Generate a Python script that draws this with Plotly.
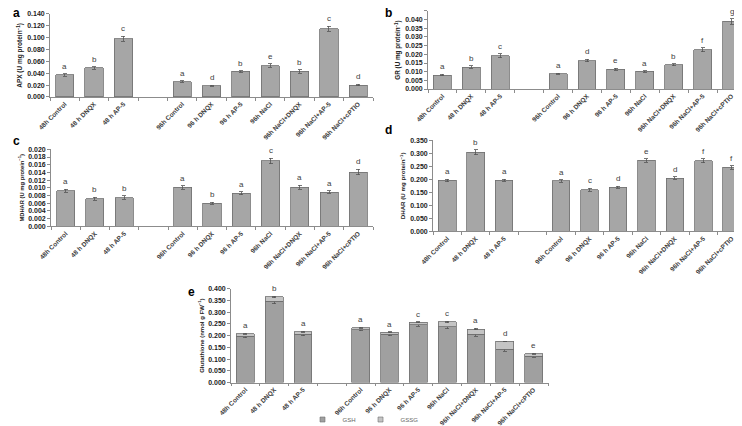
import plotly.graph_objects as go

# category labels (gap slot between the 48 h and 96 h groups)
categories = ["48h Control", "48 h DNQX", "48 h AP-5", "96h Control", "96 h DNQX",
              "96 h AP-5", "96h NaCl", "96h NaCl+DNQX", "96h NaCl+AP-5", "96h NaCl+cPTIO"]
axis_order = categories[:3] + [" "] + categories[3:]

# a: APX
apx = [0.037, 0.049, 0.098, 0.026, 0.019, 0.043, 0.053, 0.043, 0.115, 0.020]
apx_err = [0.002, 0.002, 0.004, 0.0015, 0.001, 0.0015, 0.003, 0.003, 0.004, 0.001]
apx_letters = ["a", "b", "c", "a", "d", "b", "e", "b", "c", "d"]

# b: GR
gr = [0.0080, 0.0126, 0.0192, 0.0088, 0.0164, 0.0114, 0.0102, 0.0141, 0.0226, 0.0390]
gr_err = [0.0004, 0.0007, 0.0012, 0.0004, 0.0007, 0.0007, 0.0004, 0.0006, 0.0012, 0.0016]
gr_letters = ["a", "b", "c", "a", "d", "e", "a", "b", "f", "g"]

# c: MDHAR
mdhar = [0.0093, 0.0072, 0.0075, 0.0101, 0.0060, 0.0086, 0.0170, 0.0102, 0.0089, 0.0141]
mdhar_err = [0.0004, 0.0004, 0.0004, 0.0005, 0.0003, 0.0004, 0.0007, 0.0005, 0.0003, 0.0007]
mdhar_letters = ["a", "b", "b", "a", "b", "a", "c", "a", "a", "d"]

# d: DHAR
dhar = [0.196, 0.305, 0.196, 0.194, 0.160, 0.170, 0.273, 0.205, 0.272, 0.246]
dhar_err = [0.005, 0.010, 0.004, 0.005, 0.005, 0.004, 0.007, 0.005, 0.008, 0.007]
dhar_letters = ["a", "b", "a", "a", "c", "d", "e", "d", "f", "f"]

# e: glutathione (stacked)
gsh = [0.197, 0.347, 0.205, 0.225, 0.205, 0.247, 0.238, 0.205, 0.142, 0.112]
gssg = [0.011, 0.018, 0.012, 0.008, 0.009, 0.010, 0.020, 0.023, 0.033, 0.010]
gsh_err = [0.006, 0.012, 0.006, 0.005, 0.006, 0.007, 0.008, 0.008, 0.008, 0.004]
gssg_err = [0.002, 0.003, 0.002, 0.002, 0.002, 0.003, 0.003, 0.003, 0.002, 0.002]
glu_letters = ["a", "b", "a", "a", "a", "c", "c", "a", "d", "e"]

W, H = 742, 426
BAR = "#A6A6A6"
EDGE = "#6F6F6F"
TXT = "#404040"
FONT = "Liberation Sans"

fig = go.Figure()


def px_dom(lo, hi):
    return [lo / W, hi / W]


def py_dom(top, bottom):
    return [1 - bottom / H, 1 - top / H]


def x_axis(dom, ya):
    return dict(domain=dom, anchor=ya, type="category", automargin=False,
                categoryorder="array", categoryarray=axis_order,
                range=[-0.5, 10.5], tickangle=-45, showline=True,
                linecolor="#8C8C8C", linewidth=0.8, ticks="outside",
                tickson="boundaries", ticklen=3, tickcolor="#8C8C8C",
                tickfont=dict(size=6.5, color=TXT, family=FONT, weight="bold"),
                showgrid=False, zeroline=False)


def y_axis(dom, xa, yrange, dtick, title, tsize):
    return dict(domain=dom, anchor=xa, range=yrange, dtick=dtick, automargin=False,
                tickformat=".3f", showline=True, linecolor="#8C8C8C",
                linewidth=0.8, ticks="outside", ticklen=3, tickcolor="#8C8C8C",
                tickfont=dict(size=7, color="#222222", family=FONT, weight="bold"),
                showgrid=False, zeroline=False,
                title=dict(text=title, standoff=3,
                           font=dict(size=tsize, color="#222222", family=FONT, weight="bold")))


def add_letters(xa, ya, tops, letters):
    for c, v, t in zip(categories, tops, letters):
        fig.add_annotation(x=c, y=v, xref=xa, yref=ya, text=t, showarrow=False,
                           yanchor="bottom", yshift=1, font=dict(size=8, color=TXT, family=FONT))


def add_panel(n, vals, errs, letters, xdom, ydom, yrange, dtick, title, tsize):
    xa = f"x{n}"
    ya = f"y{n}"
    fig.add_trace(go.Bar(
        x=categories, y=vals, xaxis=xa, yaxis=ya, width=0.62,
        marker=dict(color=BAR, line=dict(color=EDGE, width=0.8)),
        error_y=dict(type="data", array=errs, color="#555555", thickness=0.8, width=2),
        showlegend=False))
    add_letters(xa, ya, [v + e for v, e in zip(vals, errs)], letters)
    fig.update_layout(**{f"xaxis{n}": x_axis(xdom, ya),
                         f"yaxis{n}": y_axis(ydom, xa, yrange, dtick, title, tsize)})


add_panel(1, apx, apx_err, apx_letters, px_dom(42, 365), py_dom(6, 90),
          [0, 0.14], 0.02, "APX (U mg protein<sup>−1</sup>)", 6.5)
add_panel(2, gr, gr_err, gr_letters, px_dom(420, 738), py_dom(3, 82),
          [0, 0.045], 0.005, "GR (U mg protein<sup>−1</sup>)", 6.3)
add_panel(3, mdhar, mdhar_err, mdhar_letters, px_dom(43, 365), py_dom(143, 221),
          [0, 0.02], 0.002, "MDHAR (U mg protein<sup>−1</sup>)", 5.8)
add_panel(4, dhar, dhar_err, dhar_letters, px_dom(425, 738), py_dom(134, 226),
          [0, 0.35], 0.05, "DHAR (U mg protein<sup>−1</sup>)", 6.2)

# panel e: stacked GSH + GSSG
fig.add_trace(go.Bar(
    x=categories, y=gsh, xaxis="x5", yaxis="y5", width=0.62, showlegend=False,
    marker=dict(color="#A0A0A0", line=dict(color=EDGE, width=0.8)),
    error_y=dict(type="data", array=gsh_err, color="#555555", thickness=0.8, width=2)))
fig.add_trace(go.Bar(
    x=categories, y=gssg, xaxis="x5", yaxis="y5", width=0.62, showlegend=False,
    marker=dict(color="#C4C4C4", line=dict(color=EDGE, width=0.8)),
    error_y=dict(type="data", array=gssg_err, color="#555555", thickness=0.8, width=2)))
add_letters("x5", "y5", [a + b + e for a, b, e in zip(gsh, gssg, gssg_err)], glu_letters)

# small square legend keys
for name, col in [("GSH", "#A0A0A0"), ("GSSG", "#C4C4C4")]:
    fig.add_trace(go.Scatter(
        x=[None], y=[None], xaxis="x5", yaxis="y5", mode="markers", name=name,
        marker=dict(symbol="square", size=5, color=col, line=dict(color=EDGE, width=0.6))))

fig.update_layout(xaxis5=x_axis(px_dom(223, 540), "y5"),
                  yaxis5=y_axis(py_dom(284, 379), "x5", [0, 0.4], 0.05,
                                "Glutathione (nmol g FW<sup>−1</sup>)", 6))

for lab, x, y in [("a", 3, 5), ("b", 375, 5), ("c", 3, 135), ("d", 375, 123), ("e", 178, 287)]:
    fig.add_annotation(x=x / W, y=1 - y / H, xref="paper", yref="paper", text=lab,
                       showarrow=False, xanchor="left", yanchor="middle",
                       font=dict(size=12, color="black", family=FONT, weight="bold"))

fig.update_layout(
    width=W, height=H, margin=dict(l=0, r=0, t=0, b=0),
    barmode="stack", plot_bgcolor="white", paper_bgcolor="white", bargap=0.38,
    legend=dict(orientation="h", x=355 / W, y=-0.012, xanchor="center", yanchor="bottom",
                font=dict(size=6, color="#666666", family=FONT),
                itemwidth=30, traceorder="normal", bgcolor="rgba(0,0,0,0)"),
)

fig.write_html("out.html")
